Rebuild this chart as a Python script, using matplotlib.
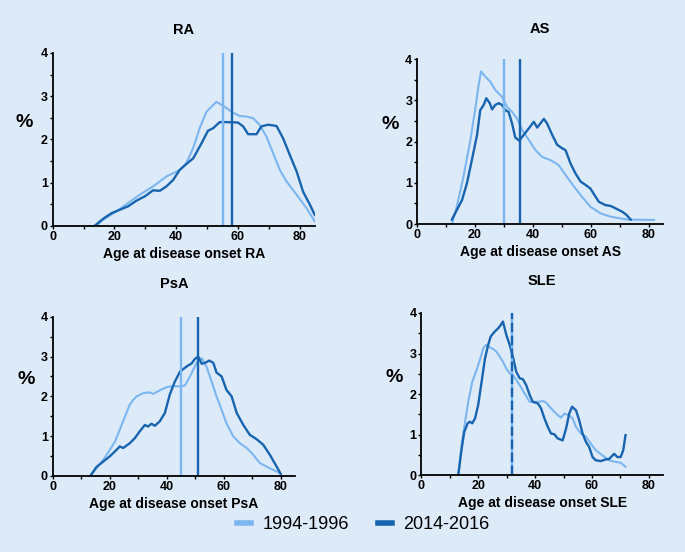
import matplotlib
matplotlib.use('Agg')
import matplotlib.pyplot as plt
from matplotlib.lines import Line2D
from matplotlib.ticker import MultipleLocator

plt.rcParams['font.family'] = ['Liberation Sans', 'DejaVu Sans']

# Farben
bg = '#ddeaf8'
hell = '#7cb6ef'
dunkel = '#1864ae'

# RA
ra_x_alt = [14, 16.3, 20.6, 28.2, 32.5, 36.8, 41.1, 43.3, 45.5, 47.6, 49.8, 53, 55.2, 57.9, 60.6, 62.7,
            64.9, 67, 69.2, 71.4, 73.6, 75.7, 79, 82.2, 84.9]
ra_y_alt = [0, 0.14, 0.33, 0.72, 0.91, 1.14, 1.29, 1.45, 1.80, 2.26, 2.64, 2.87, 2.78, 2.64, 2.54, 2.53,
            2.49, 2.34, 2.07, 1.68, 1.29, 1.03, 0.72, 0.41, 0.10]
ra_x_neu = [13.6, 16.3, 19, 21.7, 24.4, 27.1, 29.8, 32.5, 34.7, 36.8, 39, 41.1, 43.3, 45.5, 48.2, 50.3,
            52, 54.1, 56.3, 60, 61.7, 63.3, 66, 67.6, 69.8, 72.5, 74.6, 76.8, 79, 81.1, 83.3, 84.9]
ra_y_neu = [0, 0.16, 0.29, 0.37, 0.45, 0.58, 0.68, 0.82, 0.81, 0.91, 1.06, 1.29, 1.43, 1.56, 1.91, 2.20,
            2.26, 2.40, 2.40, 2.39, 2.30, 2.12, 2.12, 2.30, 2.34, 2.31, 2.03, 1.64, 1.26, 0.79, 0.49, 0.25]

# AS
as_x_alt = [12, 13.7, 16, 18.4, 20.1, 21.2, 22.1, 23.6, 25.3, 27, 29.3, 31.1, 32.8, 34.5, 36.3, 38.6,
            40.9, 43.2, 46.1, 48.9, 51.3, 54.2, 57, 59.9, 63.4, 66.9, 72.6, 81.9]
as_y_alt = [0, 0.42, 1.15, 2.04, 2.80, 3.35, 3.70, 3.57, 3.45, 3.25, 3.09, 2.84, 2.72, 2.56, 2.28, 2.04,
            1.79, 1.63, 1.55, 1.43, 1.19, 0.91, 0.66, 0.42, 0.26, 0.18, 0.11, 0.10]
as_x_neu = [12, 13.7, 15.5, 17.2, 18.9, 20.7, 21.8, 23, 23.9, 25.1, 25.9, 27, 28.2, 29.3, 30.5, 31.6,
            32.8, 33.9, 35.3, 36.8, 38.6, 40.3, 41.5, 42.6, 43.8, 44.9, 46.7, 48.4, 50.1, 51.3, 53,
            54.7, 56.5, 58.2, 59.9, 61.7, 62.8, 65.1, 66.9, 69.2, 70.9, 72.4, 73.8]
as_y_neu = [0.11, 0.34, 0.58, 0.99, 1.55, 2.16, 2.76, 2.89, 3.05, 2.93, 2.78, 2.89, 2.93, 2.89, 2.76, 2.72,
            2.44, 2.10, 2.02, 2.16, 2.32, 2.48, 2.34, 2.44, 2.55, 2.44, 2.16, 1.92, 1.84, 1.79, 1.47,
            1.23, 1.03, 0.95, 0.86, 0.66, 0.54, 0.46, 0.44, 0.36, 0.30, 0.22, 0.11]

# PsA
psa_x_alt = [13.2, 15.3, 17.7, 20, 21.8, 23.5, 25.3, 27, 28.2, 29.4, 31.7, 34, 35.2, 37.5, 39.9, 42.2,
             44.6, 46.3, 48.1, 50.4, 52.2, 53.9, 55.7, 57.4, 59.2, 60.9, 63.3, 65.6, 68, 70.3, 72.6,
             76.1, 79.6]
psa_y_alt = [0, 0.19, 0.40, 0.65, 0.86, 1.16, 1.49, 1.79, 1.91, 2.00, 2.08, 2.10, 2.06, 2.15, 2.23, 2.26,
             2.25, 2.27, 2.50, 2.84, 2.96, 2.75, 2.37, 2.00, 1.66, 1.32, 0.99, 0.82, 0.70, 0.53, 0.32,
             0.19, 0.07]
psa_x_neu = [13.2, 15.3, 17.7, 20, 22.3, 23.5, 24.7, 27, 28.8, 30.5, 32.3, 33.4, 34.6, 35.8, 37.5, 39.3,
             41, 42.8, 44.6, 46.9, 48.7, 49.8, 51, 52.2, 53.3, 54.9, 56.3, 57.4, 59.2, 60.9, 62.7,
             64.5, 66.8, 69.1, 71.5, 73.8, 76.1, 78.5, 79.9]
psa_y_neu = [0, 0.22, 0.36, 0.49, 0.65, 0.74, 0.70, 0.82, 0.95, 1.12, 1.28, 1.24, 1.31, 1.26, 1.37, 1.58,
             2.04, 2.37, 2.62, 2.75, 2.83, 2.94, 3.00, 2.82, 2.84, 2.90, 2.84, 2.60, 2.50, 2.16, 2.00,
             1.58, 1.28, 1.03, 0.92, 0.78, 0.53, 0.23, 0.05]

# SLE
sle_x_alt = [13, 14.2, 15.4, 16.5, 17.9, 19.4, 20.6, 21.8, 22.7, 23.7, 25.3, 26.4, 27.6, 28.7, 29.9,
             31.1, 32.2, 33.4, 34.6, 36.3, 38.1, 39.2, 41, 42.7, 43.9, 45.6, 47.4, 49.1, 50.3, 52,
             53.2, 54.4, 56.1, 57.9, 59.6, 61.3, 63.7, 66, 68.3, 70.1, 71.8]
sle_y_alt = [0, 0.74, 1.32, 1.81, 2.30, 2.59, 2.84, 3.13, 3.21, 3.17, 3.11, 3.05, 2.92, 2.80, 2.63,
             2.51, 2.47, 2.35, 2.22, 2.02, 1.81, 1.81, 1.81, 1.83, 1.79, 1.65, 1.52, 1.42, 1.52, 1.48,
             1.40, 1.19, 1.03, 0.95, 0.78, 0.62, 0.49, 0.37, 0.33, 0.31, 0.21]
sle_x_neu = [13, 14.2, 15.1, 16.3, 17.1, 17.9, 18.9, 20, 21.2, 22.4, 23.5, 24.4, 25.8, 27, 27.9, 28.7,
             29.9, 31.1, 32.2, 33.4, 34.6, 35.7, 36.9, 38.1, 39.2, 41, 42.1, 43.3, 44.5, 45.6, 46.8,
             47.9, 49.7, 50.9, 52, 53, 54.4, 55.5, 56.7, 57.9, 59, 60.2, 61.3, 63.1, 64.8, 66, 67.8,
             68.9, 70.1, 71, 71.8]
sle_y_neu = [0, 0.66, 1.07, 1.28, 1.32, 1.28, 1.40, 1.73, 2.30, 2.88, 3.21, 3.42, 3.54, 3.62, 3.70, 3.79,
             3.46, 3.21, 2.92, 2.55, 2.39, 2.37, 2.22, 1.98, 1.81, 1.77, 1.65, 1.40, 1.19, 1.03, 1.01,
             0.91, 0.86, 1.15, 1.52, 1.69, 1.60, 1.36, 1.03, 0.82, 0.70, 0.45, 0.37, 0.35, 0.39, 0.40,
             0.53, 0.45, 0.45, 0.62, 0.99]

# Mediane (vertikale Linien)
median_alt = {'RA': 55, 'AS': 30, 'PsA': 45, 'SLE': 32}
median_neu = {'RA': 58, 'AS': 35.7, 'PsA': 51, 'SLE': 32}

panels = [
    ('RA', ra_x_alt, ra_y_alt, ra_x_neu, ra_y_neu, [0.077, 0.591, 0.383, 0.313], 14),
    ('AS', as_x_alt, as_y_alt, as_x_neu, as_y_neu, [0.609, 0.594, 0.359, 0.299], 19),
    ('PsA', psa_x_alt, psa_y_alt, psa_x_neu, psa_y_neu, [0.077, 0.138, 0.354, 0.288], 21),
    ('SLE', sle_x_alt, sle_y_alt, sle_x_neu, sle_y_neu, [0.615, 0.139, 0.353, 0.294], 20),
]

fig = plt.figure(figsize=(6.85, 5.52), dpi=100, facecolor=bg)

for name, xa, ya, xn, yn, pos, pad in panels:
    ax = fig.add_axes(pos)
    ax.set_facecolor(bg)
    ax.plot(xa, ya, color=hell, lw=1.5)
    ax.plot(xn, yn, color=dunkel, lw=1.7)
    ax.axvline(median_alt[name], color=hell, lw=1.7)
    if name == 'SLE':
        ax.axvline(median_neu[name], color=dunkel, lw=1.7, dashes=(4, 1.5))
    else:
        ax.axvline(median_neu[name], color=dunkel, lw=1.7)
    ax.set_xlim(0, 85)
    ax.set_ylim(0, 4)
    for s in ['top', 'right']:
        ax.spines[s].set_visible(False)
    for s in ['left', 'bottom']:
        ax.spines[s].set_linewidth(1.3)
    ax.xaxis.set_major_locator(MultipleLocator(20))
    ax.xaxis.set_minor_locator(MultipleLocator(10))
    ax.yaxis.set_major_locator(MultipleLocator(1))
    ax.yaxis.set_minor_locator(MultipleLocator(0.5))
    ax.tick_params(which='both', direction='out', length=2.5, width=1, pad=1, labelsize=9)
    for lab in ax.get_xticklabels() + ax.get_yticklabels():
        lab.set_fontweight('bold')
    ax.set_title(name, fontsize=10.5, fontweight='bold', pad=pad)
    ax.set_xlabel('Age at disease onset ' + name, fontsize=10, fontweight='bold', labelpad=3)
    ax.set_ylabel('%', fontsize=14, fontweight='bold', rotation=0)
    ax.yaxis.set_label_coords(-0.11, 0.55)

handles = [Line2D([], [], color=hell, lw=4), Line2D([], [], color=dunkel, lw=4)]
fig.legend(handles, ['1994-1996', '2014-2016'], loc='center', bbox_to_anchor=(0.53, 0.049),
           ncol=2, frameon=False, fontsize=13, handlelength=0.8, handletextpad=0.6,
           columnspacing=1.6)

fig.savefig('out.png', dpi=100, facecolor=bg)
